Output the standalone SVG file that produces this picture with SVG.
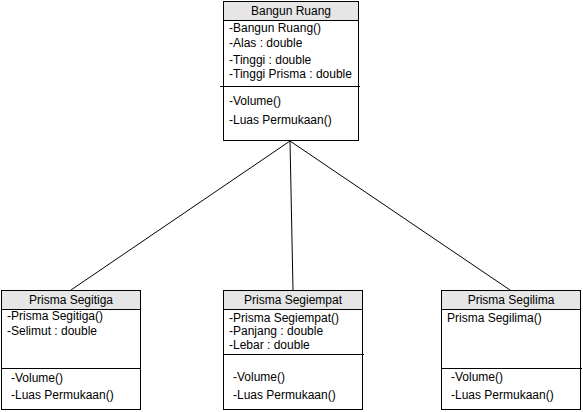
<svg xmlns="http://www.w3.org/2000/svg" width="583" height="412" viewBox="0 0 583 412">
<style>
.box{fill:#ffffff;stroke:#000000;stroke-width:1}
.hdr{fill:#e6e6e6;stroke:#000000;stroke-width:1}
.div{stroke:#000000;stroke-width:1}
.t{font-family:"Liberation Sans",Arial,sans-serif;font-size:12px;fill:#000000}
.c{text-anchor:middle}
.conn{stroke:#000000;stroke-width:1;fill:none}
</style>
<rect width="583" height="412" fill="#ffffff"/>
<g id="connectors">
<line class="conn" x1="290" y1="141" x2="71" y2="290"/>
<line class="conn" x1="290" y1="141" x2="293" y2="290"/>
<line class="conn" x1="290" y1="141" x2="510" y2="290"/>
</g>
<g id="bangun-ruang">
<rect class="box" x="223.5" y="1.5" width="135" height="139"/>
<rect class="hdr" x="223.5" y="1.5" width="135" height="19"/>
<text class="t c" x="291" y="15">Bangun Ruang</text>
<text class="t" x="229" y="32">-Bangun Ruang()</text>
<text class="t" x="229" y="47">-Alas : double</text>
<text class="t" x="229" y="64">-Tinggi : double</text>
<text class="t" x="229" y="78">-Tinggi Prisma : double</text>
<line class="div" x1="220" y1="86.5" x2="360" y2="86.5"/>
<text class="t" x="229" y="105">-Volume()</text>
<text class="t" x="229" y="124">-Luas Permukaan()</text>
</g>
<g id="prisma-segitiga">
<rect class="box" x="1.5" y="290.5" width="139" height="119"/>
<rect class="hdr" x="1.5" y="290.5" width="139" height="19"/>
<text class="t c" x="71" y="304">Prisma Segitiga</text>
<text class="t" x="7" y="320">-Prisma Segitiga()</text>
<text class="t" x="7" y="335">-Selimut : double</text>
<line class="div" x1="1.5" y1="368.5" x2="140.5" y2="368.5"/>
<text class="t" x="11" y="382">-Volume()</text>
<text class="t" x="11" y="399">-Luas Permukaan()</text>
</g>
<g id="prisma-segiempat">
<rect class="box" x="223.5" y="290.5" width="139" height="119"/>
<rect class="hdr" x="223.5" y="290.5" width="139" height="19"/>
<text class="t c" x="293" y="304">Prisma Segiempat</text>
<text class="t" x="229" y="322">-Prisma Segiempat()</text>
<text class="t" x="229" y="335">-Panjang : double</text>
<text class="t" x="229" y="349">-Lebar : double</text>
<line class="div" x1="223.5" y1="354.5" x2="364" y2="354.5"/>
<text class="t" x="233" y="381">-Volume()</text>
<text class="t" x="233" y="399">-Luas Permukaan()</text>
</g>
<g id="prisma-segilima">
<rect class="box" x="441.5" y="290.5" width="139" height="119"/>
<rect class="hdr" x="441.5" y="290.5" width="139" height="19"/>
<text class="t c" x="511" y="304">Prisma Segilima</text>
<text class="t" x="447" y="322">Prisma Segilima()</text>
<line class="div" x1="441.5" y1="368.5" x2="582" y2="368.5"/>
<text class="t" x="451" y="381">-Volume()</text>
<text class="t" x="451" y="399">-Luas Permukaan()</text>
</g>
</svg>
